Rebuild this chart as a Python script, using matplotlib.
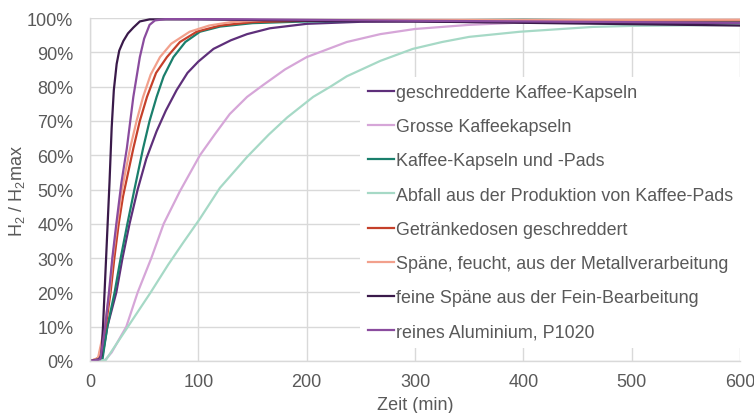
import matplotlib
matplotlib.use("Agg")
import matplotlib.pyplot as plt
from matplotlib.ticker import FuncFormatter

plt.rcParams['font.family'] = ['Liberation Sans', 'DejaVu Sans']
plt.rcParams['mathtext.default'] = 'regular'

labels = [
    "geschredderte Kaffee-Kapseln",
    "Grosse Kaffeekapseln",
    "Kaffee-Kapseln und -Pads",
    "Abfall aus der Produktion von Kaffee-Pads",
    "Getränkedosen geschreddert",
    "Späne, feucht, aus der Metallverarbeitung",
    "feine Späne aus der Fein-Bearbeitung",
    "reines Aluminium, P1020",
]
colors = ["#5e2f7a", "#d6a6d8", "#1a7f6c", "#a6d9c6", "#c5402a", "#f2a08c", "#3a1a4a", "#8a4c9e"]

# time (min) and H2/H2max (%) per series
t_geschr = [0, 11, 16, 24.3, 30, 36.5, 44, 52, 61.5, 70, 80, 90, 100, 114, 130, 145, 166, 200, 250, 300, 400, 500, 600]
v_geschr = [0, 0.5, 10, 20, 30, 40, 50, 59, 67, 73, 79, 84, 87.3, 91, 93.5, 95.3, 97, 98.3, 98.9, 99.0, 98.7, 98.6, 98.4]

t_grosse = [0, 14, 20, 33.5, 44, 56.6, 68, 83, 101.5, 115, 129, 145, 160, 180, 200, 237, 268, 300, 350, 400, 500, 600]
v_grosse = [0, 0.3, 2.5, 10, 20, 30, 40, 49.5, 60, 66, 72, 77, 80.5, 85, 88.6, 93, 95.3, 96.8, 98, 98.7, 99.2, 99.4]

t_pads = [0, 11.5, 16, 22.7, 28.3, 34.5, 41, 49, 55, 61.5, 68, 77, 88, 101.5, 120, 150, 200, 300, 400, 500, 600]
v_pads = [0, 0.5, 10, 20, 30, 40, 50, 62, 70, 77, 83, 88.6, 93, 96, 97.5, 98.5, 99, 99.3, 99.5, 99.3, 99.1]

t_abfall = [0, 14.6, 35, 56, 72, 86, 101.5, 120, 145, 165, 182, 206, 222, 237, 268, 298, 325, 350, 397, 464, 500, 600]
v_abfall = [0, 0.3, 10, 20, 28, 34.5, 41.5, 50.5, 59.5, 66, 71, 77, 80, 83, 87.5, 91, 93, 94.5, 96, 97.4, 97.7, 98.0]

t_dosen = [0, 5, 8, 14.5, 19, 22.5, 26.5, 30.5, 40, 46, 52.6, 61, 71, 83, 98.5, 120, 150, 200, 600]
v_dosen = [0, 0.5, 1, 10, 20, 30, 40, 48, 62, 70, 77, 84, 88.6, 93, 96, 97.8, 98.8, 99.2, 99.3]

t_feucht = [0, 5, 7.5, 13.5, 18, 21, 25, 29.5, 37, 43, 49, 56, 64.6, 75, 92, 110, 130, 160, 600]
v_feucht = [0, 0.5, 1, 10, 20, 30, 40, 50, 62, 70, 77, 83.5, 88.6, 92.5, 96, 97.8, 98.8, 99.4, 99.5]

t_fein = [0, 8, 10.5, 12, 14, 16, 18, 20, 22, 24.6, 27, 30.8, 35, 40, 46, 55, 100, 200, 300, 400, 500, 600]
v_fein = [0, 0.5, 1.5, 10, 24, 38, 52, 68, 79, 86.6, 90.5, 93.3, 95.5, 97.2, 99, 99.6, 99.6, 99.2, 99.0, 98.6, 98.2, 97.8]

t_alu = [0, 9.5, 14, 17.5, 20.6, 24.3, 29, 34, 40, 46, 50, 55, 60, 70, 150, 300, 400, 500, 600]
v_alu = [0, 0.5, 10, 20, 30, 40, 52, 62, 77, 88.6, 94, 98, 99.3, 99.7, 99.6, 99.2, 99.0, 98.8, 98.6]

series_t = [t_geschr, t_grosse, t_pads, t_abfall, t_dosen, t_feucht, t_fein, t_alu]
series_v = [v_geschr, v_grosse, v_pads, v_abfall, v_dosen, v_feucht, v_fein, v_alu]

fig = plt.figure(figsize=(7.54, 4.14), dpi=100)
ax = fig.add_axes([90/754, 1-362/414, 650/754, 343/414])

for t, v, lab, c in zip(series_t, series_v, labels, colors):
    ax.plot(t, [x/100 for x in v], color=c, lw=1.6, label=lab)

ax.set_xlim(0, 600)
ax.set_ylim(0, 1)
ax.set_xticks(range(0, 601, 100))
ax.set_yticks([i/10 for i in range(11)])
ax.yaxis.set_major_formatter(FuncFormatter(lambda y, p: f"{int(round(y*100))}%"))
ax.grid(True, color="#d9d9d9", lw=1)
ax.set_axisbelow(True)
for s in ["top", "right"]:
    ax.spines[s].set_visible(False)
for s in ["left", "bottom"]:
    ax.spines[s].set_color("#d9d9d9")
    ax.spines[s].set_linewidth(1)
ax.tick_params(length=0, colors="#595959", labelsize=13)
ax.tick_params(axis="y", pad=12)
ax.tick_params(axis="x", pad=9)

ax.set_xlabel("Zeit (min)", fontsize=13, color="#595959")
ax.set_ylabel(r"H$_2$ / H$_2$max", fontsize=13, color="#595959")
ax.xaxis.set_label_coords(0.5, -0.102)
ax.yaxis.set_label_coords(-0.097, 0.5)

leg = ax.legend(loc="upper left", bbox_to_anchor=(0.416, 0.829), frameon=True,
                facecolor="white", edgecolor="none", framealpha=1, fancybox=False,
                fontsize=12.85, handlelength=1.5, handletextpad=0.12,
                labelspacing=0.966, borderaxespad=0, borderpad=0.4)
for txt in leg.get_texts():
    txt.set_color("#595959")

fig.savefig("out.png", dpi=100)
